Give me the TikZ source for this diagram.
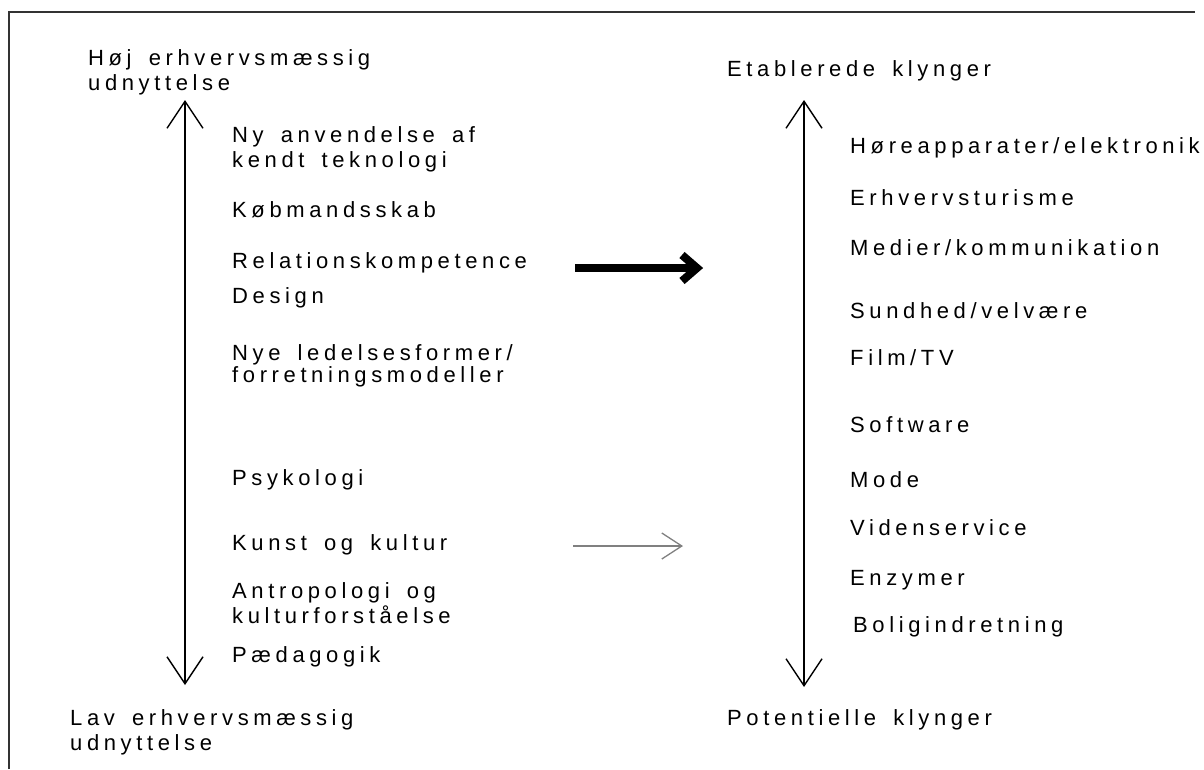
\documentclass[tikz,border=0pt]{standalone}
\usepackage{fontspec}
\setmainfont{Liberation Sans}[LetterSpace=21,WordSpace=1.6]
\usetikzlibrary{arrows.meta}
\definecolor{framegray}{HTML}{333333}
\definecolor{lightarrow}{HTML}{808080}
\begin{document}
\begin{tikzpicture}[x=1pt,y=-1pt,
  lbl/.style={anchor=base west, inner sep=0pt, font=\fontsize{22}{25}\selectfont},
  framestyle/.style={draw=framegray, line width=1.5pt},
  axisline/.style={line width=1.4pt, {Straight Barb[length=27pt,width=36pt]}-{Straight Barb[length=27pt,width=36pt]}},
  boldline/.style={line width=8pt, line join=miter},
  thinarrow/.style={draw=lightarrow, line width=1.3pt, -{Straight Barb[length=20pt,width=26pt]}}
]
\useasboundingbox (0,0) rectangle (1204,769);
% frame
\draw[framestyle] (9,769) -- (9,12) -- (1195,12);

% left axis labels
\node[lbl] (hoj1) at (88,65) {Høj erhvervsmæssig};
\node[lbl] (hoj2) at (88,90) {udnyttelse};
\node[lbl] (lav1) at (70,725) {Lav erhvervsmæssig};
\node[lbl] (lav2) at (70,750) {udnyttelse};

% left items
\node[lbl] (ny1) at (232,142) {Ny anvendelse af};
\node[lbl] (ny2) at (232,167) {kendt teknologi};
\node[lbl] (kob) at (232,217) {Købmandsskab};
\node[lbl] (rel) at (232,268) {Relationskompetence};
\node[lbl] (des) at (232,303) {Design};
\node[lbl] (nye1) at (232,360) {Nye ledelsesformer/};
\node[lbl] (nye2) at (232,382) {forretningsmodeller};
\node[lbl] (psy) at (232,485) {Psykologi};
\node[lbl] (kun) at (232,550) {Kunst og kultur};
\node[lbl] (ant1) at (232,598) {Antropologi og};
\node[lbl] (ant2) at (232,623) {kulturforståelse};
\node[lbl] (paed) at (232,662) {Pædagogik};

% right axis labels
\node[lbl] (etab) at (727,76) {Etablerede klynger};
\node[lbl] (pot) at (727,725) {Potentielle klynger};

% right items
\node[lbl] (hor) at (850,153) {Høreapparater/elektronik};
\node[lbl] (erh) at (850,205) {Erhvervsturisme};
\node[lbl] (med) at (850,255) {Medier/kommunikation};
\node[lbl] (sun) at (850,318) {Sundhed/velvære};
\node[lbl] (fil) at (850,365) {Film/TV};
\node[lbl] (sof) at (850,432) {Software};
\node[lbl] (mod) at (850,487) {Mode};
\node[lbl] (vid) at (850,535) {Videnservice};
\node[lbl] (enz) at (850,585) {Enzymer};
\node[lbl] (bol) at (853,632) {Boligindretning};

% axes
\coordinate (lt) at (185,100);
\coordinate (lb) at (185,685);
\coordinate (rt) at (804,100);
\coordinate (rb) at (804,687);
\draw[axisline] (lb) -- (lt);
\draw[axisline] (rb) -- (rt);

% bold arrow
\coordinate (ks) at (575,268);
\coordinate (ke) at (697,268);
\draw[boldline] (ks) -- ([xshift=-3pt]ke);
\draw[boldline] ([xshift=-15pt,yshift=13pt]ke) -- (ke) -- ([xshift=-15pt,yshift=-13pt]ke);

% thin gray arrow
\coordinate (gs) at (573,546);
\coordinate (ge) at (683,546);
\draw[thinarrow] (gs) -- (ge);
\end{tikzpicture}
\end{document}
